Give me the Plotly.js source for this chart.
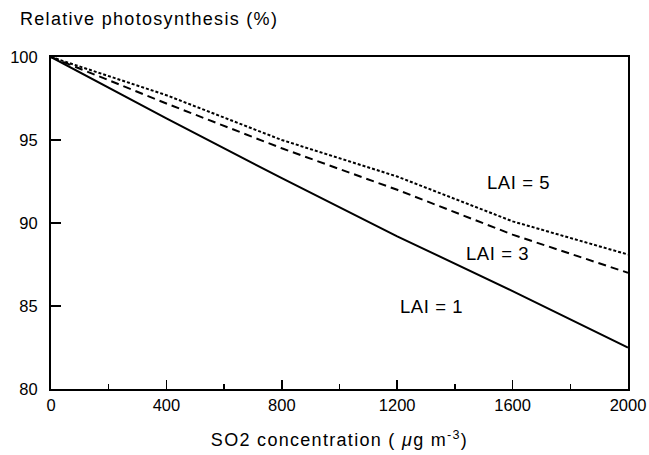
<!DOCTYPE html>
<html>
<head>
<meta charset="utf-8">
<script src="https://cdn.plot.ly/plotly-3.0.1.min.js"></script>
<style>
  html, body { margin: 0; padding: 0; background: #fff; }
  #chart { width: 649px; height: 455px; }
  /* slightly looser lettering for the titles and line labels */
  #chart .gtitle, #chart .xtitle { letter-spacing: 1.3px; }
  #chart .annotation-text { letter-spacing: 0.6px; }
</style>
</head>
<body>
<div id="chart"></div>
<script>
// SO2 concentration (µg m-3)
const so2 = [0, 400, 800, 1200, 1600, 2000];

// Relative photosynthesis (%) for each leaf area index
const lai1 = [100, 96.3, 92.7, 89.2, 85.9, 82.5];
const lai3 = [100, 97.2, 94.5, 92.0, 89.3, 87.0];
const lai5 = [100, 97.7, 95.0, 92.8, 90.1, 88.1];

const xTicks = [0, 400, 800, 1200, 1600, 2000];
const yTicks = [80, 85, 90, 95, 100];

const lineLabels = [
  { text: 'LAI = 5', x: 1620, y: 92.45 },
  { text: 'LAI = 3', x: 1546, y: 88.15 },
  { text: 'LAI = 1', x: 1320, y: 85.0 }
];

const font = 'Liberation Sans, Arial, sans-serif';

const traces = [
  { x: so2, y: lai1, mode: 'lines', line: { color: '#000', width: 2, dash: 'solid' } },
  { x: so2, y: lai3, mode: 'lines', line: { color: '#000', width: 2, dash: '8px,5px' } },
  { x: so2, y: lai5, mode: 'lines', line: { color: '#000', width: 2, dash: '3px,2px' } }
];

const layout = {
  width: 649,
  height: 455,
  margin: { l: 51, r: 21, t: 57, b: 66 },
  paper_bgcolor: '#fff',
  plot_bgcolor: '#fff',
  showlegend: false,
  font: { family: font, color: '#000', size: 16 },
  title: {
    text: 'Relative photosynthesis (%)',
    x: 20 / 649, xref: 'container', xanchor: 'left',
    y: 1, yref: 'container', yanchor: 'top',
    pad: { t: 12 },
    font: { family: font, size: 18, color: '#000' }
  },
  xaxis: {
    range: [0, 2000],
    tickvals: xTicks,
    ticktext: xTicks.map(String),
    ticks: 'inside', ticklen: 9, tickwidth: 1.5, tickcolor: '#000',
    minor: { dtick: 200, tick0: 0, ticks: 'inside', ticklen: 5, tickwidth: 1.5, tickcolor: '#000' },
    showline: true, linecolor: '#000', linewidth: 2, mirror: true,
    showgrid: false, zeroline: false,
    tickfont: { family: font, size: 16.5, color: '#000' },
    title: {
      text: 'SO2 concentration ( <i>μ</i>g m<sup>-3</sup>)',
      standoff: 21,
      font: { family: font, size: 18, color: '#000' }
    }
  },
  yaxis: {
    range: [80, 100],
    tickvals: yTicks,
    ticktext: yTicks.map(String),
    ticks: 'inside', ticklen: 10, tickwidth: 1.5, tickcolor: '#000',
    ticklabelstandoff: 8,
    showline: true, linecolor: '#000', linewidth: 2, mirror: true,
    showgrid: false, zeroline: false,
    tickfont: { family: font, size: 16.5, color: '#000' }
  },
  annotations: lineLabels.map(l => ({
    text: l.text, x: l.x, y: l.y, xref: 'x', yref: 'y',
    showarrow: false, xanchor: 'center', yanchor: 'middle',
    font: { family: font, size: 18.5, color: '#000' }
  }))
};

Plotly.newPlot('chart', traces, layout, { displayModeBar: false, staticPlot: true });
</script>
</body>
</html>
